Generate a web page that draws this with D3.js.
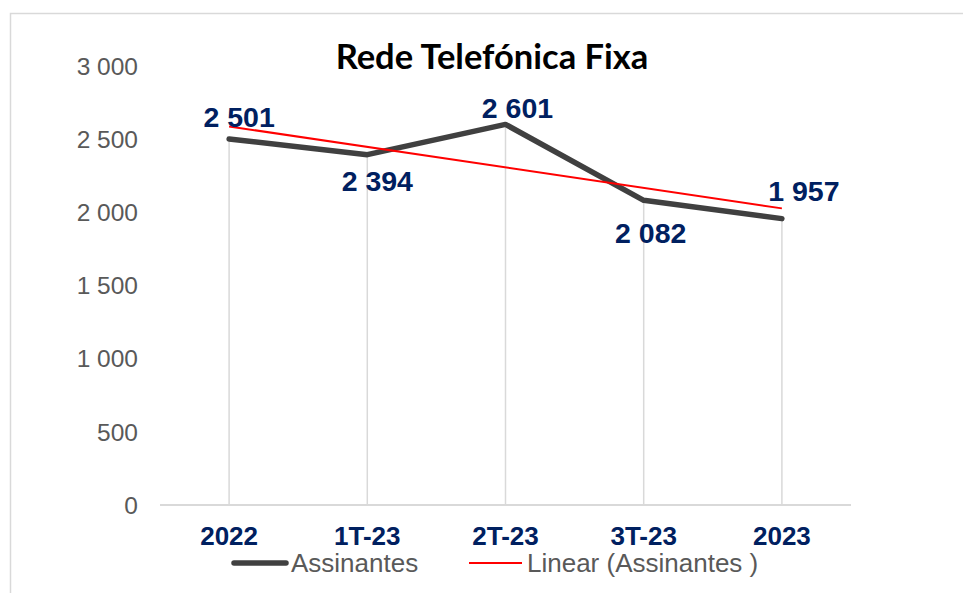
<!DOCTYPE html>
<html>
<head>
<meta charset="utf-8">
<script src="https://cdn.jsdelivr.net/npm/d3@7"></script>
<style>
  body { margin: 0; background: #fff; }
  svg { display: block; font-family: "Liberation Sans", Arial, sans-serif; }
</style>
</head>
<body>
<svg id="chart"></svg>
<script>
const categories = ["2022", "1T-23", "2T-23", "3T-23", "2023"];
const assinantes = [2501, 2394, 2601, 2082, 1957];
const yTicks = [0, 500, 1000, 1500, 2000, 2500, 3000];
const title = "Rede Telefónica Fixa";
const legendLabels = ["Assinantes", "Linear (Assinantes )"];

(function() {
  'use strict';
  const W = 963, H = 593;

  const svg = d3.select('#chart').attr('width', W).attr('height', H);

  // chart area border (right/bottom edges fall outside the picture)
  svg.append('rect')
    .attr('x', 10.5).attr('y', 13.5)
    .attr('width', W + 20).attr('height', H + 20)
    .attr('fill', 'none').attr('stroke', '#d9d9d9').attr('stroke-width', 1.5);

  const x = d3.scaleBand().domain(categories).range([160, 851]);
  const cx = d => x(d) + x.bandwidth() / 2;
  const y = d3.scaleLinear().domain([0, 3000]).range([505, 66]);

  // title
  svg.append('text')
    .attr('x', 492).attr('y', 69)
    .attr('text-anchor', 'middle')
    .attr('font-family', 'Lato, "Open Sans", sans-serif')
    .attr('font-weight', 'bold').attr('font-size', 34.5)
    .attr('fill', '#000')
    .text(title);

  // y axis labels
  svg.selectAll('.ytick')
    .data(yTicks)
    .enter().append('text')
    .attr('class', 'ytick')
    .attr('x', 138).attr('y', d => y(d))
    .attr('dy', '0.36em')
    .attr('text-anchor', 'end')
    .attr('font-size', 24.5).attr('fill', '#595959')
    .text(d => d3.format(',')(d).replace(/,/g, ' '));

  // drop lines
  svg.selectAll('.drop')
    .data(assinantes)
    .enter().append('line')
    .attr('x1', (d, i) => cx(categories[i])).attr('x2', (d, i) => cx(categories[i]))
    .attr('y1', y(0)).attr('y2', d => y(d))
    .attr('stroke', '#d9d9d9').attr('stroke-width', 1.5);

  // x axis line
  svg.append('line')
    .attr('x1', x.range()[0]).attr('x2', x.range()[1])
    .attr('y1', y(0)).attr('y2', y(0))
    .attr('stroke', '#d9d9d9').attr('stroke-width', 2);

  // category labels
  svg.selectAll('.xtick')
    .data(categories)
    .enter().append('text')
    .attr('x', d => cx(d)).attr('y', 545)
    .attr('text-anchor', 'middle')
    .attr('font-size', 26).attr('font-weight', 'bold').attr('fill', '#002060')
    .text(d => d);

  // series line
  const pts = assinantes.map((v, i) => [cx(categories[i]), y(v)]);
  svg.append('path')
    .attr('d', d3.line()(pts))
    .attr('fill', 'none').attr('stroke', '#404040')
    .attr('stroke-width', 5.5)
    .attr('stroke-linejoin', 'round').attr('stroke-linecap', 'round');

  // linear trend (least squares over the series)
  const n = assinantes.length;
  const xs = d3.range(1, n + 1);
  const mx = d3.mean(xs), my = d3.mean(assinantes);
  const slope = d3.sum(xs, (v, i) => (v - mx) * (assinantes[i] - my)) /
                d3.sum(xs, v => (v - mx) * (v - mx));
  const trend = xs.map(v => my + slope * (v - mx));
  svg.append('line')
    .attr('x1', cx(categories[0])).attr('y1', y(trend[0]))
    .attr('x2', cx(categories[n - 1])).attr('y2', y(trend[n - 1]))
    .attr('stroke', '#ff0000').attr('stroke-width', 2);

  // data labels, nudged as in the original
  const labelShift = [[10, -12], [10, 36], [12, -6], [7, 43], [22, -18]];
  svg.selectAll('.vlabel')
    .data(assinantes)
    .enter().append('text')
    .attr('x', (d, i) => cx(categories[i]) + labelShift[i][0])
    .attr('y', d => y(d))
    .attr('dy', (d, i) => labelShift[i][1])
    .attr('text-anchor', 'middle')
    .attr('font-size', 28.5).attr('font-weight', 'bold').attr('fill', '#002060')
    .text(d => d3.format(',')(d).replace(/,/g, ' '));

  // legend
  const leg = svg.append('g');
  leg.append('line')
    .attr('x1', 234).attr('x2', 286).attr('y1', 563).attr('y2', 563)
    .attr('stroke', '#404040').attr('stroke-width', 5.5).attr('stroke-linecap', 'round');
  leg.append('text')
    .attr('x', 291).attr('y', 572)
    .attr('font-size', 26).attr('fill', '#595959')
    .text(legendLabels[0]);
  leg.append('line')
    .attr('x1', 469).attr('x2', 522).attr('y1', 563).attr('y2', 563)
    .attr('stroke', '#ff0000').attr('stroke-width', 2);
  leg.append('text')
    .attr('x', 527).attr('y', 572)
    .attr('font-size', 26).attr('fill', '#595959')
    .text(legendLabels[1]);
})();
</script>
</body>
</html>
